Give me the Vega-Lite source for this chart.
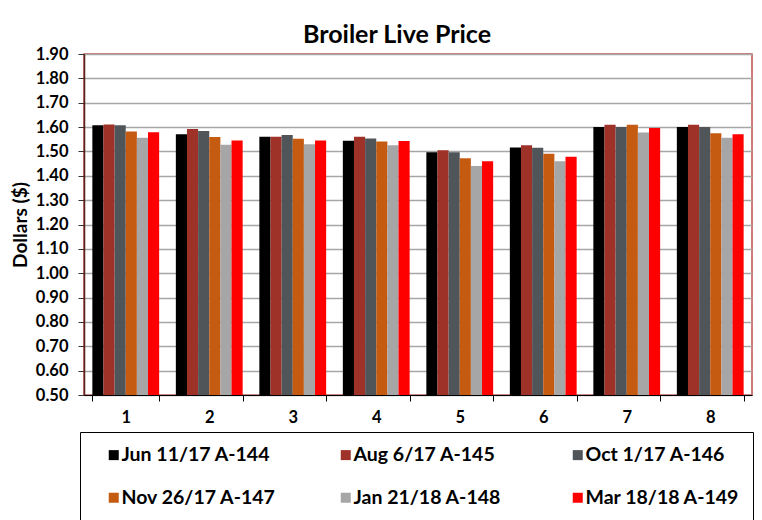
{
  "$schema": "https://vega.github.io/schema/vega-lite/v6.json",
  "width": 668,
  "height": 341,
  "autosize": "none",
  "padding": {"left": 84, "top": 54, "right": 10, "bottom": 125},
  "background": "white",
  "title": {"text": "Broiler Live Price", "font": "Lato", "fontSize": 25, "fontWeight": "bold", "color": "black", "anchor": "middle", "dx": -21, "dy": 12, "offset": 10},
  "data": {"values": [
    {"group": "1", "series": "Jun 11/17 A-144", "price": 1.607},
    {"group": "1", "series": "Aug 6/17 A-145", "price": 1.611},
    {"group": "1", "series": "Oct 1/17 A-146", "price": 1.607},
    {"group": "1", "series": "Nov 26/17 A-147", "price": 1.582},
    {"group": "1", "series": "Jan 21/18 A-148", "price": 1.556},
    {"group": "1", "series": "Mar 18/18 A-149", "price": 1.579},
    {"group": "2", "series": "Jun 11/17 A-144", "price": 1.571},
    {"group": "2", "series": "Aug 6/17 A-145", "price": 1.592},
    {"group": "2", "series": "Oct 1/17 A-146", "price": 1.584},
    {"group": "2", "series": "Nov 26/17 A-147", "price": 1.559},
    {"group": "2", "series": "Jan 21/18 A-148", "price": 1.527},
    {"group": "2", "series": "Mar 18/18 A-149", "price": 1.545},
    {"group": "3", "series": "Jun 11/17 A-144", "price": 1.560},
    {"group": "3", "series": "Aug 6/17 A-145", "price": 1.560},
    {"group": "3", "series": "Oct 1/17 A-146", "price": 1.567},
    {"group": "3", "series": "Nov 26/17 A-147", "price": 1.552},
    {"group": "3", "series": "Jan 21/18 A-148", "price": 1.529},
    {"group": "3", "series": "Mar 18/18 A-149", "price": 1.545},
    {"group": "4", "series": "Jun 11/17 A-144", "price": 1.544},
    {"group": "4", "series": "Aug 6/17 A-145", "price": 1.560},
    {"group": "4", "series": "Oct 1/17 A-146", "price": 1.553},
    {"group": "4", "series": "Nov 26/17 A-147", "price": 1.541},
    {"group": "4", "series": "Jan 21/18 A-148", "price": 1.525},
    {"group": "4", "series": "Mar 18/18 A-149", "price": 1.543},
    {"group": "5", "series": "Jun 11/17 A-144", "price": 1.497},
    {"group": "5", "series": "Aug 6/17 A-145", "price": 1.505},
    {"group": "5", "series": "Oct 1/17 A-146", "price": 1.497},
    {"group": "5", "series": "Nov 26/17 A-147", "price": 1.472},
    {"group": "5", "series": "Jan 21/18 A-148", "price": 1.440},
    {"group": "5", "series": "Mar 18/18 A-149", "price": 1.460},
    {"group": "6", "series": "Jun 11/17 A-144", "price": 1.516},
    {"group": "6", "series": "Aug 6/17 A-145", "price": 1.525},
    {"group": "6", "series": "Oct 1/17 A-146", "price": 1.515},
    {"group": "6", "series": "Nov 26/17 A-147", "price": 1.490},
    {"group": "6", "series": "Jan 21/18 A-148", "price": 1.460},
    {"group": "6", "series": "Mar 18/18 A-149", "price": 1.478},
    {"group": "7", "series": "Jun 11/17 A-144", "price": 1.600},
    {"group": "7", "series": "Aug 6/17 A-145", "price": 1.610},
    {"group": "7", "series": "Oct 1/17 A-146", "price": 1.600},
    {"group": "7", "series": "Nov 26/17 A-147", "price": 1.610},
    {"group": "7", "series": "Jan 21/18 A-148", "price": 1.578},
    {"group": "7", "series": "Mar 18/18 A-149", "price": 1.596},
    {"group": "8", "series": "Jun 11/17 A-144", "price": 1.600},
    {"group": "8", "series": "Aug 6/17 A-145", "price": 1.610},
    {"group": "8", "series": "Oct 1/17 A-146", "price": 1.600},
    {"group": "8", "series": "Nov 26/17 A-147", "price": 1.575},
    {"group": "8", "series": "Jan 21/18 A-148", "price": 1.556},
    {"group": "8", "series": "Mar 18/18 A-149", "price": 1.571}
  ]},
  "mark": {"type": "bar", "clip": true},
  "encoding": {
    "x": {
      "field": "group", "type": "ordinal",
      "scale": {"paddingInner": 0.2, "paddingOuter": 0.1},
      "axis": {"title": null, "labelAngle": 0, "labelFont": "Lato", "labelFontSize": 16.5, "labelFontWeight": "bold", "labelColor": "black", "labelPadding": 8, "domainColor": "black", "domainWidth": 1, "tickColor": "black", "tickSize": 6, "tickBand": "extent", "grid": false, "zindex": 1}
    },
    "xOffset": {
      "field": "series", "type": "nominal",
      "sort": ["Jun 11/17 A-144", "Aug 6/17 A-145", "Oct 1/17 A-146", "Nov 26/17 A-147", "Jan 21/18 A-148", "Mar 18/18 A-149"],
      "scale": {"paddingInner": 0, "paddingOuter": 0}
    },
    "y": {
      "field": "price", "type": "quantitative",
      "scale": {"domain": [0.5, 1.9], "zero": false, "nice": false},
      "axis": {"title": "Dollars ($)", "titleFont": "Lato", "titleFontSize": 19, "titleFontWeight": "bold", "titleColor": "black", "titlePadding": 5, "values": [0.5, 0.6, 0.7, 0.8, 0.9, 1.0, 1.1, 1.2, 1.3, 1.4, 1.5, 1.6, 1.7, 1.8, 1.9], "format": ".2f", "labelFont": "Lato", "labelFontSize": 16.5, "labelFontWeight": "bold", "labelColor": "black", "labelPadding": 10, "domainColor": "#5a1f1f", "domainWidth": 1.5, "tickColor": "#333333", "tickSize": 6, "grid": true, "gridColor": "#a6a6a6", "gridWidth": 1.5}
    },
    "color": {
      "field": "series", "type": "nominal",
      "scale": {
        "domain": ["Jun 11/17 A-144", "Aug 6/17 A-145", "Oct 1/17 A-146", "Nov 26/17 A-147", "Jan 21/18 A-148", "Mar 18/18 A-149"],
        "range": ["#000000", "#9e3229", "#50555a", "#c55a11", "#a6a6a6", "#ff0000"]
      },
      "legend": {
        "title": null, "orient": "none", "legendX": -4, "legendY": 378,
        "direction": "horizontal", "columns": 3, "gridAlign": "all",
        "strokeColor": "black", "fillColor": "white", "padding": 13,
        "symbolType": "square", "symbolSize": 100, "symbolStrokeWidth": 0, "symbolOffset": 11,
        "labelFont": "Lato", "labelFontSize": 19.5, "labelFontWeight": "bold", "labelColor": "black", "labelOffset": -2, "labelLimit": 300,
        "columnPadding": 49, "rowPadding": 22
      }
    }
  },
  "config": {"view": {"stroke": "#c0504d", "strokeWidth": 1.5}}
}
